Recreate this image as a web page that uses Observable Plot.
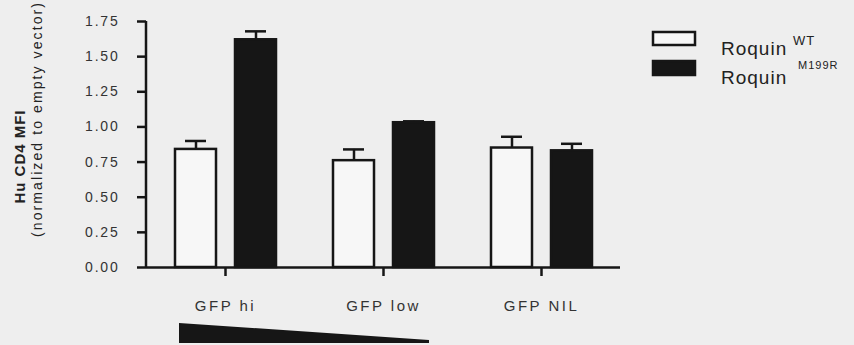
<!DOCTYPE html>
<html><head><meta charset="utf-8">
<script src="https://cdn.jsdelivr.net/npm/d3@7"></script>
<script src="https://cdn.jsdelivr.net/npm/@observablehq/plot@0.6"></script>
<style>
body{margin:0;background:#eeeeee;}
#chart{width:854px;height:345px;}
svg{font-family:"Liberation Sans",Arial,sans-serif;}
svg [aria-label="y-axis tick label"] text{letter-spacing:1.8px;}
svg [aria-label="fx-axis tick label"] text{letter-spacing:2.5px;}
</style></head><body><div id="chart"></div>
<script>
const groups = ["GFP hi", "GFP low", "GFP NIL"];
const genotypes = ["WT", "M199R"];
const wtValues = [0.84, 0.76, 0.85];
const wtErrors = [0.06, 0.08, 0.08];
const mutValues = [1.62, 1.03, 0.83];
const mutErrors = [0.06, 0.01, 0.05];
const yTicks = [0, 0.25, 0.5, 0.75, 1.0, 1.25, 1.5, 1.75];
const legendBase = "Roquin";
const legendSup = ["WT", "M199R"];
const yTitle = "Hu CD4 MFI";
const ySubtitle = "(normalized to empty vector)";

const data = [];
groups.forEach((g, i) => {
  data.push({group: g, genotype: "WT", value: wtValues[i], err: wtErrors[i]});
  data.push({group: g, genotype: "M199R", value: mutValues[i], err: mutErrors[i]});
});

const ink = "#161616";
const chart = Plot.plot({
  width: 854, height: 345,
  marginLeft: 146, marginRight: 234, marginTop: 21, marginBottom: 78,
  style: {background: "transparent", color: "#222", fontFamily: "'Liberation Sans', Arial, sans-serif"},
  fx: {domain: groups, padding: 0, label: null},
  x: {domain: genotypes, paddingInner: 0.32, paddingOuter: 0.47, axis: null},
  y: {domain: [0, 1.75], axis: null},
  color: {domain: genotypes, range: ["#f7f7f7", ink]},
  marks: [
    Plot.axisY({ticks: yTicks, tickFormat: d3.format(".2f"), tickSize: 9, tickPadding: 18, strokeWidth: 2.5, stroke: ink, label: null, fontSize: 14, fill: "#333"}),
    Plot.axisFx({anchor: "bottom", tickSize: 9, tickPadding: 24, strokeWidth: 2.5, stroke: ink, label: null, fontSize: 15, fill: "#333"}),
    Plot.ruleX(data, {fx: "group", x: "genotype", y1: "value", y2: d => d.value + d.err, stroke: ink, strokeWidth: 2.5}),
    Plot.tickY(data, {fx: "group", x: "genotype", y: d => d.value + d.err, stroke: ink, strokeWidth: 2.5, insetLeft: 10, insetRight: 10}),
    Plot.barY(data, {fx: "group", x: "genotype", y: "value", fill: "genotype", stroke: ink, strokeWidth: 2.5}),
    Plot.ruleY([0], {stroke: ink, strokeWidth: 2.5})
  ]
});
document.getElementById("chart").appendChild(chart);

const svg = d3.select(chart);
const ys = chart.scale("y");
const fxs = chart.scale("fx");
const xs = chart.scale("x");
const left = fxs.range[0];
// y axis line
svg.append("line").attr("x1", left).attr("x2", left)
  .attr("y1", ys.apply(1.75)).attr("y2", ys.apply(0) + 1)
  .attr("stroke", ink).attr("stroke-width", 2.5);

// y titles
svg.append("text").attr("transform", "translate(25,157) rotate(-90)")
  .attr("text-anchor", "middle").attr("font-size", 15).attr("font-weight", "bold")
  .attr("textLength", 93).attr("lengthAdjust", "spacing")
  .attr("fill", "#222").text(yTitle);
svg.append("text").attr("transform", "translate(42,120) rotate(-90)")
  .attr("text-anchor", "middle").attr("font-size", 14)
  .attr("textLength", 234).attr("lengthAdjust", "spacing")
  .attr("fill", "#222").text(ySubtitle);

// gradient wedge under the groups (decorative)
const xOff = v => xs.apply(v) - xs.range[0];
const wx0 = fxs.apply(groups[0]) + xOff("WT") + 4;
const wx1 = fxs.apply(groups[1]) + xOff("M199R") + xs.bandwidth - 5;
svg.append("polygon")
  .attr("points", `${wx0},323 ${wx1},340 ${wx1},343 ${wx0},343`)
  .attr("fill", ink);

// legend
const lg = svg.append("g").attr("text-anchor", "start");
legendSup.forEach((s, i) => {
  const y0 = i === 0 ? 32 : 61;
  lg.append("rect").attr("x", 653).attr("y", y0).attr("width", 42).attr("height", i === 0 ? 13 : 14)
    .attr("fill", i === 0 ? "#f7f7f7" : ink).attr("stroke", ink).attr("stroke-width", 2.5);
  lg.append("text").attr("x", 721).attr("y", i === 0 ? 55 : 84).attr("font-size", 19)
    .attr("text-anchor", "start").attr("fill", "#222").style("letter-spacing", "1px").text(legendBase);
  lg.append("text").attr("x", i === 0 ? 793 : 798).attr("y", i === 0 ? 45 : 69)
    .attr("text-anchor", "start").attr("font-size", i === 0 ? 13 : 11).attr("fill", "#222").style("letter-spacing", "1px").text(s);
});
</script></body></html>
